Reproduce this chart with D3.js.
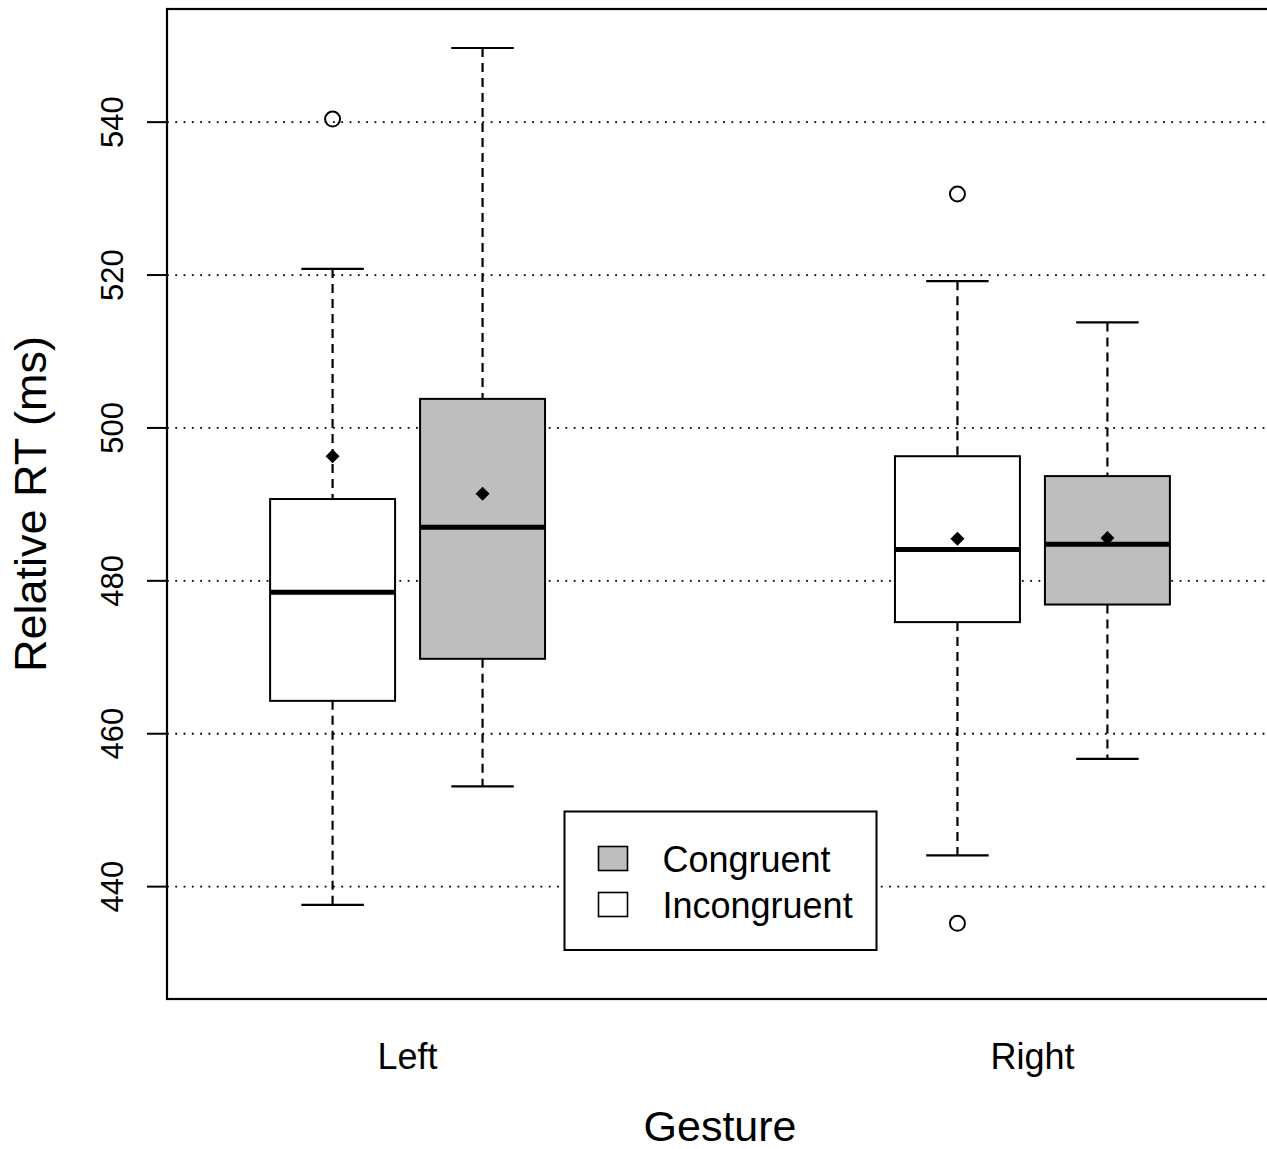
<!DOCTYPE html>
<html>
<head>
<meta charset="utf-8">
<script src="https://cdn.jsdelivr.net/npm/d3@7"></script>
<style>
  html, body { margin: 0; padding: 0; background: #fff; }
  svg { display: block; font-family: "Liberation Sans", Arial, Helvetica, sans-serif; }
</style>
</head>
<body>
<svg id="chart" width="1267" height="1149"></svg>
<script>
// ---- data ----
const categories = ["Left", "Right"];
const conditions = ["Incongruent", "Congruent"];
const boxGroup     = ["Left", "Left", "Right", "Right"];
const boxCondition = ["Incongruent", "Congruent", "Incongruent", "Congruent"];
const whiskerLow   = [437.6, 453.1, 444.1, 456.7];
const q1Values     = [464.3, 469.8, 474.6, 476.9];
const medianValues = [478.5, 487.0, 484.1, 484.8];
const q3Values     = [490.7, 503.8, 496.3, 493.7];
const whiskerHigh  = [520.8, 549.7, 519.2, 513.8];
const meanValues   = [496.3, 491.4, 485.5, 485.6];
const outlierValues = [[540.4], [], [530.6, 435.2], []];
const yTicks = [440, 460, 480, 500, 520, 540];
const legendLabels = ["Congruent", "Incongruent"];
const fillColors = { Incongruent: "#ffffff", Congruent: "#bebebe" };

// ---- layout ----
const svg = d3.select("#chart");
const plot = { left: 167, right: 1273, top: 9, bottom: 999 };

const x = d3.scalePoint().domain(categories).range([plot.left, plot.right]).padding(0.385);
const step = x.step();
const sub = d3.scalePoint().domain(conditions).range([-0.12 * step, 0.12 * step]);
const boxW = 0.2 * step;
const y = d3.scaleLinear().domain([425.3, 554.8]).range([plot.bottom, plot.top]);

const boxes = boxGroup.map((g, i) => ({
  g, c: boxCondition[i], lo: whiskerLow[i], q1: q1Values[i], med: medianValues[i],
  q3: q3Values[i], hi: whiskerHigh[i], mean: meanValues[i], out: outlierValues[i]
}));

// gridlines
svg.append("g").selectAll("line").data(yTicks).join("line")
  .attr("x1", plot.left).attr("x2", plot.right)
  .attr("y1", d => y(d)).attr("y2", d => y(d))
  .attr("stroke", "#000").attr("stroke-width", 1.8)
  .attr("stroke-dasharray", "1.8,6.5");

// boxes
const bg = svg.append("g").selectAll("g").data(boxes).join("g")
  .attr("transform", d => `translate(${x(d.g) + sub(d.c)},0)`);

// whiskers (dashed)
bg.append("line").attr("x1", 0).attr("x2", 0)
  .attr("y1", d => y(d.hi)).attr("y2", d => y(d.q3))
  .attr("stroke", "#000").attr("stroke-width", 2.2).attr("stroke-dasharray", "9,6");
bg.append("line").attr("x1", 0).attr("x2", 0)
  .attr("y1", d => y(d.q1)).attr("y2", d => y(d.lo))
  .attr("stroke", "#000").attr("stroke-width", 2.2).attr("stroke-dasharray", "9,6");
// caps
bg.append("line").attr("x1", -boxW / 4).attr("x2", boxW / 4)
  .attr("y1", d => y(d.hi)).attr("y2", d => y(d.hi))
  .attr("stroke", "#000").attr("stroke-width", 2.2);
bg.append("line").attr("x1", -boxW / 4).attr("x2", boxW / 4)
  .attr("y1", d => y(d.lo)).attr("y2", d => y(d.lo))
  .attr("stroke", "#000").attr("stroke-width", 2.2);
// box
bg.append("rect").attr("x", -boxW / 2).attr("width", boxW)
  .attr("y", d => y(d.q3)).attr("height", d => y(d.q1) - y(d.q3))
  .attr("fill", d => fillColors[d.c]).attr("stroke", "#000").attr("stroke-width", 2);
// median
bg.append("line").attr("x1", -boxW / 2).attr("x2", boxW / 2)
  .attr("y1", d => y(d.med)).attr("y2", d => y(d.med))
  .attr("stroke", "#000").attr("stroke-width", 5);
// mean diamond
bg.append("path")
  .attr("d", d => { const m = y(d.mean), r = 7; return `M0,${m - r}L${r},${m}L0,${m + r}L${-r},${m}Z`; })
  .attr("fill", "#000");
// outliers
bg.selectAll("circle").data(d => d.out).join("circle")
  .attr("cx", 0).attr("cy", d => y(d)).attr("r", 7.5)
  .attr("fill", "none").attr("stroke", "#000").attr("stroke-width", 2);

// frame
svg.append("rect").attr("x", plot.left).attr("y", plot.top)
  .attr("width", plot.right - plot.left).attr("height", plot.bottom - plot.top)
  .attr("fill", "none").attr("stroke", "#000").attr("stroke-width", 2.2);

// y axis ticks & labels
const yt = svg.append("g").selectAll("g").data(yTicks).join("g");
yt.append("line").attr("x1", plot.left - 20).attr("x2", plot.left)
  .attr("y1", d => y(d)).attr("y2", d => y(d))
  .attr("stroke", "#000").attr("stroke-width", 2);
yt.append("text")
  .attr("transform", d => `translate(123,${y(d)}) rotate(-90)`)
  .attr("text-anchor", "middle").attr("font-size", 31).text(d => d);

// x labels
svg.append("g").selectAll("text").data(categories).join("text")
  .attr("x", d => x(d)).attr("y", 1069).attr("text-anchor", "middle")
  .attr("font-size", 36).text(d => d);

// axis titles
svg.append("text").attr("x", (plot.left + plot.right) / 2).attr("y", 1141)
  .attr("text-anchor", "middle").attr("font-size", 43).text("Gesture");
svg.append("text").attr("transform", `translate(46,${(plot.top + plot.bottom) / 2}) rotate(-90)`)
  .attr("text-anchor", "middle").attr("font-size", 45).text("Relative RT (ms)");

// legend
const lg = svg.append("g").attr("transform", "translate(564.5,811.5)");
lg.append("rect").attr("width", 312).attr("height", 138.5)
  .attr("fill", "#fff").attr("stroke", "#000").attr("stroke-width", 2);
const li = lg.selectAll("g.item").data(legendLabels).join("g").attr("class", "item")
  .attr("transform", (d, i) => `translate(0,${47 + i * 46})`);
li.append("rect").attr("x", 34).attr("y", -12).attr("width", 29).attr("height", 24)
  .attr("fill", d => fillColors[d]).attr("stroke", "#000").attr("stroke-width", 1.6);
li.append("text").attr("x", 98).attr("y", 13).attr("font-size", 36).text(d => d);
</script>
</body>
</html>
